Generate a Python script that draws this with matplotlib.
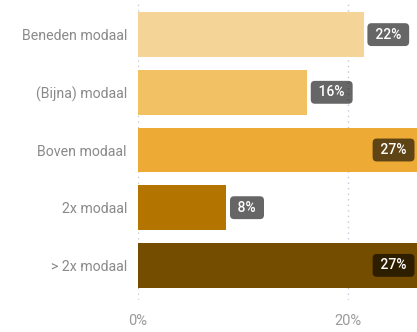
import matplotlib.pyplot as plt

categories = ["Beneden modaal", "(Bijna) modaal", "Boven modaal", "2x modaal", "> 2x modaal"]
values = [21.5, 16.1, 27.3, 8.4, 27.2]
labels = ["22%", "16%", "27%", "8%", "27%"]
colors = ["#F5D597", "#F2C164", "#EDAA35", "#B47500", "#754D00"]
ticks = [0, 20]
tick_labels = ["0%", "20%"]

plt.rcParams["font.family"] = ["Roboto", "DejaVu Sans"]

fig = plt.figure(figsize=(4.17, 3.32), dpi=100)
ax = fig.add_axes([138 / 417, 32 / 332, 1 - 138 / 417, 1 - 32 / 332])

xmax = 26.6
y = range(len(categories))
ax.barh(y, values, height=0.77, color=colors, zorder=2)
ax.set_xlim(0, xmax)
ax.set_ylim(4.6, -0.6)

for i, (v, lab) in enumerate(zip(values, labels)):
    box = dict(boxstyle="round,pad=0.32,rounding_size=0.3", fc="black", alpha=0.6, ec="none")
    txt = " " + lab + " "
    if v > xmax - 3:
        ax.annotate(txt, (xmax, i), xytext=(-5, 0), textcoords="offset points",
                    ha="right", va="center", color="white", fontsize=10,
                    fontweight="medium", bbox=box, zorder=3)
    else:
        ax.annotate(txt, (v, i), xytext=(6, 0), textcoords="offset points",
                    ha="left", va="center", color="white", fontsize=10,
                    fontweight="medium", bbox=box, zorder=3)

ax.set_yticks(list(y))
ax.set_yticklabels(categories, color="#8a8a8a", fontsize=10.2)
ax.set_xticks(ticks)
ax.set_xticklabels(tick_labels, color="#9a9a9a", fontsize=10.5)
ax.tick_params(axis="both", length=0)
ax.tick_params(axis="y", pad=8)
ax.tick_params(axis="x", pad=10)
ax.grid(axis="x", linestyle=(0, (1, 3)), color="#c8c8d8", linewidth=1, zorder=0)
for s in ax.spines.values():
    s.set_visible(False)

fig.savefig("out.png", dpi=100)
